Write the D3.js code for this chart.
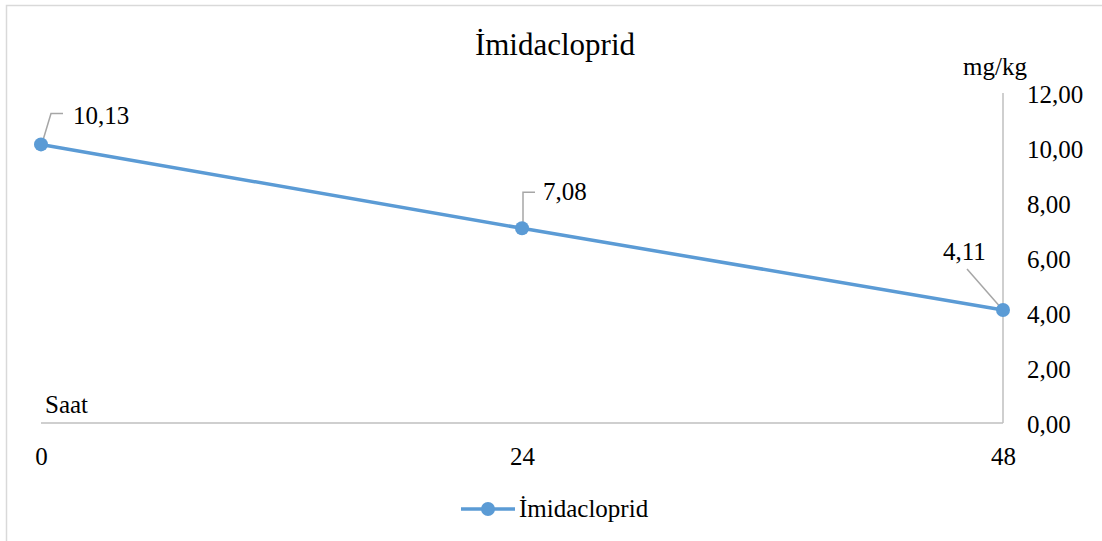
<!DOCTYPE html>
<html><head><meta charset="utf-8">
<script src="https://cdn.jsdelivr.net/npm/d3@7"></script>
</head><body style="margin:0;background:#fff">
<script>
const categories = [0, 24, 48];
const values = [10.13, 7.08, 4.11];
const yTicks = [0, 2, 4, 6, 8, 10, 12];
const seriesName = "İmidacloprid";
const title = "İmidacloprid";
const yUnit = "mg/kg";
const xUnit = "Saat";

const FONT = "Liberation Serif";
const W = 1102, H = 541;
const svg = d3.select("body").append("svg").attr("width", W).attr("height", H);
const fmt = v => d3.format(".2f")(v).replace(".", ",");
function txt(sel, size) {
  return sel.attr("font-family", FONT).attr("font-size", size);
}

txt(svg.append("text").attr("x", 555).attr("y", 55).attr("text-anchor", "middle"), 31).text(title);
txt(svg.append("text").attr("x", 995).attr("y", 75).attr("text-anchor", "middle"), 25).text(yUnit);
txt(svg.append("text").attr("x", 45).attr("y", 413), 25).text(xUnit);

svg.append("rect").attr("x", 6.5).attr("y", 5.5).attr("width", W + 10).attr("height", H + 10)
  .attr("fill", "none").attr("stroke", "#d9d9d9").attr("stroke-width", 1.5);

const x = d3.scaleLinear().domain([0, 48]).range([41, 1003]);
const y = d3.scaleLinear().domain([0, 12]).range([423, 93]);

svg.append("line").attr("x1", x(0)).attr("x2", x(48)).attr("y1", y(0)).attr("y2", y(0))
  .attr("stroke", "#bfbfbf").attr("stroke-width", 1.5);
svg.append("line").attr("x1", x(48)).attr("x2", x(48)).attr("y1", y(0)).attr("y2", y(12))
  .attr("stroke", "#bfbfbf").attr("stroke-width", 1.5);

const yAxis = d3.axisRight(y).tickValues(yTicks).tickFormat(fmt).tickSize(0).tickPadding(0);
const gy = svg.append("g").attr("transform", `translate(1027,0)`).call(yAxis)
  .attr("font-family", FONT).attr("font-size", 25);
gy.select(".domain").remove();
txt(gy.selectAll("text"), 25).attr("fill", "#000").attr("dy", "0.36em");

const xAxis = d3.axisBottom(x).tickValues(categories).tickFormat(d => d).tickSize(0).tickPadding(0);
const gx = svg.append("g").attr("transform", `translate(0,${y(0)})`).call(xAxis)
  .attr("font-family", FONT).attr("font-size", 25);
gx.select(".domain").remove();
txt(gx.selectAll("text"), 25).attr("fill", "#000").attr("dy", null).attr("y", 42);

const color = "#5b9bd5";
const pts = categories.map((c, i) => ({c, v: values[i]}));
svg.append("path").datum(pts)
  .attr("d", d3.line().x(d => x(d.c)).y(d => y(d.v)))
  .attr("fill", "none").attr("stroke", color).attr("stroke-width", 3.5);

const leaders = [
  d => `M${x(d.c)+1},${y(d.v)-1}L${x(d.c)+10},${y(d.v)-31}L${x(d.c)+22},${y(d.v)-31}`,
  d => `M${x(d.c)+1},${y(d.v)-1}L${x(d.c)+1},${y(d.v)-36}L${x(d.c)+13},${y(d.v)-36}`,
  d => `M${x(d.c)-1},${y(d.v)-1}L${x(d.c)-36},${y(d.v)-41}`
];
const labelPos = [[32, -20], [21, -28], [-60, -50]];
svg.append("g").selectAll("path").data(pts).join("path")
  .attr("d", (d, i) => leaders[i](d)).attr("fill", "none").attr("stroke", "#a6a6a6").attr("stroke-width", 1.5);

svg.append("g").selectAll("circle").data(pts).join("circle")
  .attr("cx", d => x(d.c)).attr("cy", d => y(d.v)).attr("r", 7).attr("fill", color);

txt(svg.append("g").selectAll("text").data(pts).join("text")
  .attr("x", (d, i) => x(d.c) + labelPos[i][0]).attr("y", (d, i) => y(d.v) + labelPos[i][1]), 25)
  .text(d => fmt(d.v));

const lg = svg.append("g");
lg.append("line").attr("x1", 461).attr("x2", 515).attr("y1", 509).attr("y2", 509)
  .attr("stroke", color).attr("stroke-width", 3.5);
lg.append("circle").attr("cx", 488).attr("cy", 509).attr("r", 7).attr("fill", color);
txt(lg.append("text").attr("x", 519).attr("y", 517), 25).text(seriesName);
</script>
</body></html>
